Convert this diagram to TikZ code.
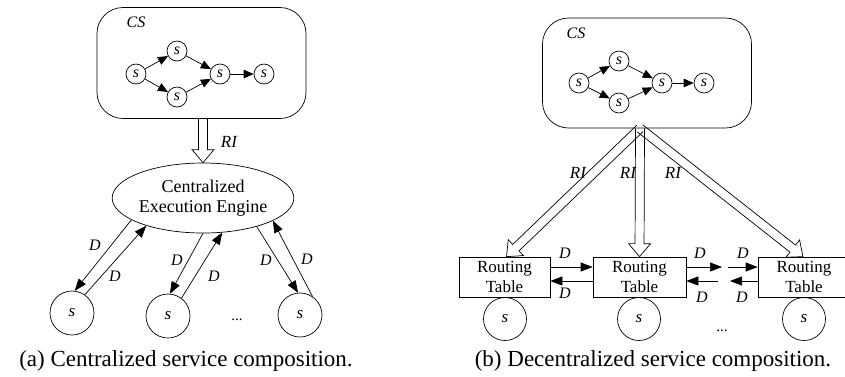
\documentclass[tikz,border=0pt]{standalone}
\usepackage{fontspec}
\setmainfont{Liberation Serif}
\usetikzlibrary{arrows.meta,calc,shapes.geometric}

% hollow block arrow from #1 to #2 (two named coordinates/anchors)
\newcommand\hollowarrow[2]{%
  \path ($(#2)!13pt!(#1)$) coordinate (hbase);
  \draw[fatedge] ($(#1)!4.5pt!90:(#2)$) -- ($(hbase)!4.5pt!90:(#2)$)
    -- ($(hbase)!11pt!90:(#2)$) -- (#2) -- ($(hbase)!11pt!-90:(#2)$)
    -- ($(hbase)!4.5pt!-90:(#2)$) -- ($(#1)!4.5pt!-90:(#2)$);}

\tikzset{
  thin line/.style={line width=0.7pt},
  fatedge/.style={line width=0.7pt, line join=miter},
  csbox/.style={draw, thin line, rounded corners=26pt, minimum width=209pt, minimum height=111pt, inner sep=0pt},
  snode/.style={circle, draw, thin line, minimum size=20pt, inner sep=0pt, font=\fontsize{16}{16}\selectfont\itshape},
  bignode/.style={circle, draw, thin line, minimum size=44pt, inner sep=0pt, font=\fontsize{17}{17}\selectfont\itshape},
  rtable/.style={draw, thin line, minimum width=92pt, minimum height=40pt, inner sep=0pt, align=center, font=\fontsize{17}{20}\selectfont},
  engine/.style={ellipse, draw, thin line, minimum width=178pt, minimum height=70pt, inner sep=0pt, align=center, font=\fontsize{18}{20}\selectfont},
  sarr/.style={thin line, -{Triangle[length=10pt,width=8.5pt]}},
  darr/.style={thin line, -{Triangle[length=12pt,width=9pt]}},
  lbl/.style={inner sep=0pt, font=\fontsize{16}{16}\selectfont\itshape},
  rilbl/.style={inner sep=0pt, font=\fontsize{17}{17}\selectfont\itshape},
  dots/.style={inner sep=0pt, anchor=base, font=\fontsize{15}{15}\selectfont},
  caption/.style={inner sep=0pt, anchor=base, font=\fontsize{23}{23}\selectfont}
}

\begin{document}
\begin{tikzpicture}[x=1pt, y=-1pt]
\useasboundingbox (0,0) rectangle (845,376);

% ---------------- (a) centralized ----------------
\node[csbox] (cs1) at (201.5,63) {};
\node[lbl] (cs1lbl) at (136,22.5) {CS};
\node[snode] (l1) at (136,74) {s};
\node[snode] (l2) at (177,51) {s};
\node[snode] (l3) at (177,97) {s};
\node[snode] (l4) at (220,74) {s};
\node[snode] (l5) at (264,74) {s};
\draw[sarr] (l1) -- (l2);
\draw[sarr] (l1) -- (l3);
\draw[sarr] (l2) -- (l4);
\draw[sarr] (l3) -- (l4);
\draw[sarr] (l4) -- (l5);

\node[engine] (eng) at (203,198) {Centralized\\Execution Engine};
\coordinate (riA) at (cs1.south -| eng.north);
\coordinate (riAtip) at (eng.north);
\hollowarrow{riA}{riAtip}
\node[rilbl] (riAlbl) at (229,142) {RI};

\node[bignode] (c1) at (72,313) {s};
\node[bignode] (c2) at (168,316) {s};
\node[bignode] (c3) at (300,315) {s};
\node[dots] (dotsA) at (237,320) {...};

\draw[darr] (eng.197) -- (c1.83);
\draw[darr] (c1.55) -- (eng.206);
\draw[darr] (eng.270) -- (c2.85);
\draw[darr] (c2.53) -- (eng.299);
\draw[darr] (eng.332) -- (c3.95);
\draw[darr] (c3.56) -- (eng.342);
\node[lbl] (dA1) at (95,245) {D};
\node[lbl] (dA2) at (115,276) {D};
\node[lbl] (dA3) at (177,260) {D};
\node[lbl] (dA4) at (214,276) {D};
\node[lbl] (dA5) at (266,260) {D};
\node[lbl] (dA6) at (307,259) {D};

\node[caption] (capA) at (186,366) {(a) Centralized service composition.};

% ---------------- (b) decentralized ----------------
\node[csbox, minimum height=110pt] (cs2) at (647,73) {};
\node[lbl] (cs2lbl) at (576,33) {CS};
\node[snode] (r1) at (579,83) {s};
\node[snode] (r2) at (619,61) {s};
\node[snode] (r3) at (619,103) {s};
\node[snode] (r4) at (662,83) {s};
\node[snode] (r5) at (704,83) {s};
\draw[sarr] (r1) -- (r2);
\draw[sarr] (r1) -- (r3);
\draw[sarr] (r2) -- (r4);
\draw[sarr] (r3) -- (r4);
\draw[sarr] (r4) -- (r5);

\node[rtable, minimum width=91pt] (b1) at (504.5,277) {Routing\\Table};
\node[rtable, minimum width=93pt] (b2) at (639.5,277) {Routing\\Table};
\node[rtable] (b3) at (804,277) {Routing\\Table};

\node[bignode, minimum size=43pt] (t1) at (505,319) {s};
\node[bignode, minimum size=43pt] (t2) at (639,319) {s};
\node[bignode, minimum size=43pt] (t3) at (804,319) {s};
\node[dots] (dotsB) at (722,331) {...};

\coordinate (J) at ([xshift=-7pt]cs2.south);
\coordinate (tipB1) at ([xshift=2pt]b1.north);
\coordinate (tipB2) at (b2.north);
\coordinate (tipB3) at ([xshift=-1pt]b3.north);
\hollowarrow{J}{tipB1}
\hollowarrow{J}{tipB2}
\hollowarrow{J}{tipB3}
\node[rilbl] (riB1) at (578,173) {RI};
\node[rilbl] (riB2) at (628,173) {RI};
\node[rilbl] (riB3) at (673,173) {RI};

% data links between routing tables
\coordinate (g1) at (722,267);
\coordinate (g2) at (728,267);
\coordinate (g3) at (730,281);
\coordinate (g4) at (718,281);
\draw[darr] ([yshift=10pt]b1.east) -- ([yshift=10pt]b2.west);
\draw[darr] ([yshift=-4pt]b2.west) -- ([yshift=-4pt]b1.east);
\draw[darr] ([yshift=10pt]b2.east) -- (g1);
\draw[darr] (g2) -- ([yshift=10pt]b3.west);
\draw[darr] ([yshift=-4pt]b3.west) -- (g3);
\draw[darr] (g4) -- ([yshift=-4pt]b2.east);
\node[lbl] (dB1) at (565,253) {D};
\node[lbl] (dB2) at (565,293) {D};
\node[lbl] (dB3) at (700,253) {D};
\node[lbl] (dB4) at (702,297) {D};
\node[lbl] (dB5) at (743,253) {D};
\node[lbl] (dB6) at (742,297) {D};

\node[caption] (capB) at (653,366) {(b) Decentralized service composition.};
\end{tikzpicture}
\end{document}
